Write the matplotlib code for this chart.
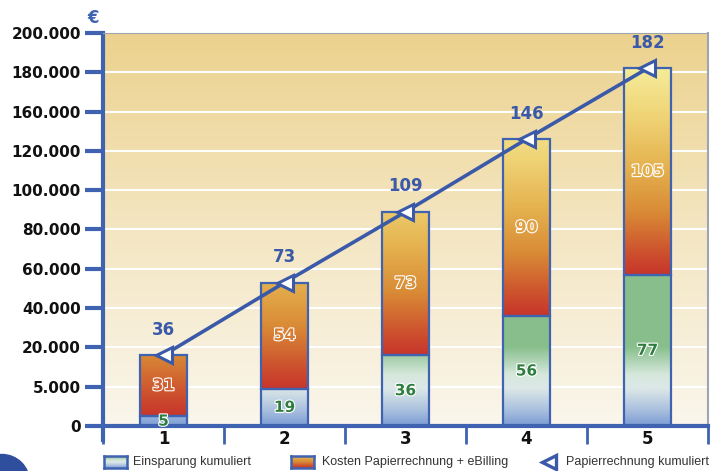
import numpy as np
import matplotlib
matplotlib.use("Agg")
from matplotlib import pyplot as plt
from matplotlib.patches import Rectangle, Ellipse
import matplotlib.patheffects as pe

# data (values in euro)
years = [1, 2, 3, 4, 5]
einsparung = [5000, 19000, 36000, 56000, 77000]
kosten = [31000, 54000, 73000, 90000, 105000]
papier = [36000, 73000, 109000, 146000, 182000]
papier_labels = ["36", "73", "109", "146", "182"]
einsparung_labels = ["5", "19", "36", "56", "77"]
kosten_labels = ["31", "54", "73", "90", "105"]
ytick_vals = [0, 20000, 40000, 60000, 80000, 100000, 120000, 140000, 160000, 180000, 200000]
ytick_labels = ["0", "5.000", "20.000", "40.000", "60.000", "80.000", "100.000",
                "120.000", "160.000", "180.000", "200.000"]

BLUE = "#3f63b0"
LINE_BLUE = "#3a59a8"

# gradient stops: green is absolute height, orange is offset from segment bottom
green_stops = [(0, "#7b9bd4"), (8000, "#a9c0de"), (19000, "#dce8e8"), (26000, "#d6e8dc"),
               (40000, "#88bf8c"), (200000, "#86be8a")]
orange_stops = [(0, "#c8352b"), (8000, "#cb482d"), (32000, "#d98b36"), (55000, "#e5b24f"),
                (80000, "#efd375"), (105000, "#f6ec9a")]


def hex2rgb(h):
  return np.array([int(h[i:i + 2], 16) / 255.0 for i in (1, 3, 5)])


def gradient(stops, v):
  xs = [s[0] for s in stops]
  cols = np.array([hex2rgb(s[1]) for s in stops])
  out = np.zeros((len(v), 1, 3))
  for c in range(3):
    out[:, 0, c] = np.interp(v, xs, cols[:, c])
  return out


def main():
  fig = plt.figure(figsize=(7.16, 4.71), dpi=100)
  ax = fig.add_axes([103 / 716, 45 / 471, 605 / 716, 393 / 471])

  # background gradient
  bg = gradient([(0, "#faf6ec"), (0.5, "#f4e6c2"), (1, "#ecd28e")], np.linspace(0, 1, 200))
  ax.imshow(bg, extent=[0, 1, 0, 1], transform=ax.transAxes, aspect="auto",
            origin="lower", zorder=0, interpolation="bilinear")

  for y in ytick_vals[1:-1]:
    ax.axhline(y, color="white", lw=1.5, zorder=1)

  w = 0.39
  for i, x in enumerate(years):
    g_top = einsparung[i]
    k_top = einsparung[i] + kosten[i]
    gv = np.linspace(0, g_top, 200)
    ax.imshow(gradient(green_stops, gv), extent=[x - w / 2, x + w / 2, 0, g_top],
              aspect="auto", origin="lower", zorder=2, interpolation="bilinear")
    kv = np.linspace(0, kosten[i], 200)
    ax.imshow(gradient(orange_stops, kv), extent=[x - w / 2, x + w / 2, g_top, k_top],
              aspect="auto", origin="lower", zorder=2, interpolation="bilinear")
    ax.add_patch(Rectangle((x - w / 2, 0), w, g_top, fill=False, ec=BLUE, lw=1.6, zorder=3))
    ax.add_patch(Rectangle((x - w / 2, g_top), w, kosten[i], fill=False, ec=BLUE, lw=1.6, zorder=3))

    ax.text(x, g_top / 2, einsparung_labels[i], ha="center", va="center", fontsize=11,
            fontweight="bold", color="#2f7d3e", zorder=6,
            path_effects=[pe.withStroke(linewidth=1.6, foreground="white")])
    fill = gradient(orange_stops, [kosten[i] / 2])[0, 0]
    ax.text(x, g_top + kosten[i] / 2, kosten_labels[i], ha="center", va="center", fontsize=11.5,
            fontweight="bold", color=fill, zorder=6,
            path_effects=[pe.withStroke(linewidth=1.6, foreground="white")])
    ax.text(x, papier[i] + 13000, papier_labels[i], ha="center", va="center", fontsize=12,
            fontweight="bold", color=LINE_BLUE, zorder=6)

  ax.plot(years, papier, color=LINE_BLUE, lw=2.6, marker="<", ms=11, mfc="white",
          mec=LINE_BLUE, mew=2.2, zorder=5)

  ax.set_xlim(0.5, 5.5)
  ax.set_ylim(0, 200000)
  ax.set_yticks(ytick_vals)
  ax.set_yticklabels(ytick_labels)
  ax.set_xticks([0.5, 1.5, 2.5, 3.5, 4.5, 5.5])
  ax.set_xticklabels([])
  ax.set_xticks(years, minor=True)
  ax.set_xticklabels([str(y) for y in years], minor=True)
  ax.tick_params(axis="y", colors=BLUE, length=13, width=3, labelcolor="#111111",
                 labelsize=11, pad=3)
  ax.tick_params(axis="x", which="major", colors=BLUE, length=13, width=2)
  ax.tick_params(axis="x", which="minor", length=0, labelsize=12, labelcolor="#111111", pad=3)
  for lab in ax.get_yticklabels() + ax.get_xticklabels(minor=True):
    lab.set_fontweight("bold")

  ax.spines["left"].set_color(BLUE)
  ax.spines["left"].set_linewidth(3)
  ax.spines["left"].set_bounds(-7000, 200000)
  ax.spines["bottom"].set_color(BLUE)
  ax.spines["bottom"].set_linewidth(3)
  ax.spines["top"].set_color("#a0a4b0")
  ax.spines["right"].set_color("#a0a4b0")
  ax.spines["right"].set_linewidth(1.5)

  fig.text(93 / 716, 1 - 18 / 471, "€", color=BLUE, fontsize=12, fontweight="bold",
           ha="center", va="center")

  # legend drawn by hand
  leg_font = ["Liberation Sans", "DejaVu Sans"]
  ly = 1 - 462 / 471
  sw1 = fig.add_axes([104 / 716, 1 - 468 / 471, 23 / 716, 12 / 471])
  sw1.imshow(gradient(green_stops, np.linspace(0, 40000, 50)), aspect="auto", origin="lower")
  sw2 = fig.add_axes([291 / 716, 1 - 468 / 471, 23 / 716, 12 / 471])
  sw2.imshow(gradient(orange_stops, np.linspace(0, 60000, 50)), aspect="auto", origin="lower")
  for s in (sw1, sw2):
    s.set_xticks([])
    s.set_yticks([])
    for sp in s.spines.values():
      sp.set_color(BLUE)
      sp.set_linewidth(1.8)
  fig.text(133 / 716, ly, "Einsparung kumuliert", fontsize=9, family=leg_font,
           color="#333333", va="center")
  fig.text(322 / 716, ly, "Kosten Papierrechnung + eBilling", fontsize=9, family=leg_font,
           color="#333333", va="center")
  fig.lines.append(plt.Line2D([549 / 716], [ly], transform=fig.transFigure, marker="<",
                              ms=10, mfc="white", mec=LINE_BLUE, mew=2.4, ls=""))
  fig.text(566 / 716, ly, "Papierrechnung kumuliert", fontsize=9, family=leg_font,
           color="#333333", va="center")

  # decorative circle in the corner
  fig.patches.append(Ellipse((2 / 716, 1 - 482 / 471), 55 / 716, 55 / 471,
                             transform=fig.transFigure, color="#2f4f9e", zorder=0))

  fig.savefig("out.png", dpi=100)


if __name__ == "__main__":
  main()
